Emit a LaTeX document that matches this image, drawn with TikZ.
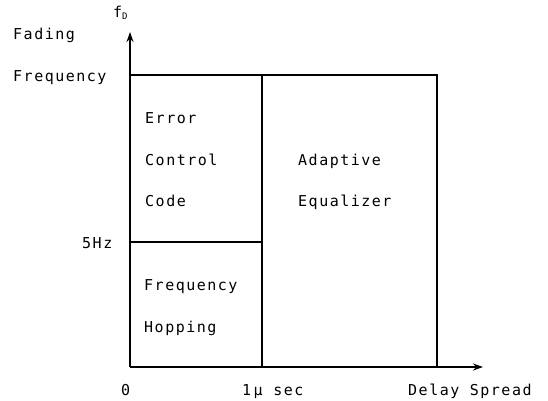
\documentclass[tikz,border=0pt]{standalone}
\usepackage{fontspec}
\usetikzlibrary{arrows.meta}
\newfontfamily\lblfont[LetterSpace=10]{DejaVu Sans Mono}
\begin{document}
\begin{tikzpicture}[x=1pt,y=-1pt,
  lbl/.style={font=\lblfont\fontsize{15pt}{17pt}\selectfont, inner sep=0pt, anchor=base west},
  frame/.style={line width=1.7pt},
  axis/.style={line width=1.7pt, -{Stealth[length=10pt,width=7pt]}}]
\useasboundingbox (0,0) rectangle (548,400);
\coordinate (O) at (130,367);
\coordinate (Ytip) at (130,32);
\coordinate (Xtip) at (483,367);
\coordinate (TL) at (130,75);
\coordinate (TM) at (262,75);
\coordinate (TR) at (437,75);
\coordinate (BM) at (262,367);
\coordinate (BR) at (437,367);
\coordinate (ML) at (130,242);
\coordinate (MM) at (262,242);
% axes
\draw[axis] (O) -- (Ytip);
\draw[axis] (O) -- (Xtip);
% regions
\draw[frame] (TL) -- (TR) -- (BR);
\draw[frame] (TM) -- (BM);
\draw[frame] (ML) -- (MM);
% axis labels
\node[lbl] (fd) at (113,17) {f};
\node[lbl, font=\lblfont\fontsize{9pt}{10pt}\selectfont] (fdsub) at (122,19.5) {D};
\node[lbl] (fading) at (13,39) {Fading};
\node[lbl] (freq) at (13,81.5) {Frequency};
\node[lbl] (fivehz) at (82,248) {5Hz};
\node[lbl] (zero) at (121,395) {0};
\node[lbl] (usec) at (242,395) {1\,μ sec};
\node[lbl] (delay) at (408,395) {Delay Spread};
% region labels
\node[lbl] (err) at (145,123) {Error};
\node[lbl] (ctl) at (145,165) {Control};
\node[lbl] (code) at (145,206.5) {Code};
\node[lbl] (fh1) at (144,290) {Frequency};
\node[lbl] (fh2) at (144,332) {Hopping};
\node[lbl] (ad1) at (298,165) {Adaptive};
\node[lbl] (ad2) at (298,206.5) {Equalizer};
\end{tikzpicture}
\end{document}
